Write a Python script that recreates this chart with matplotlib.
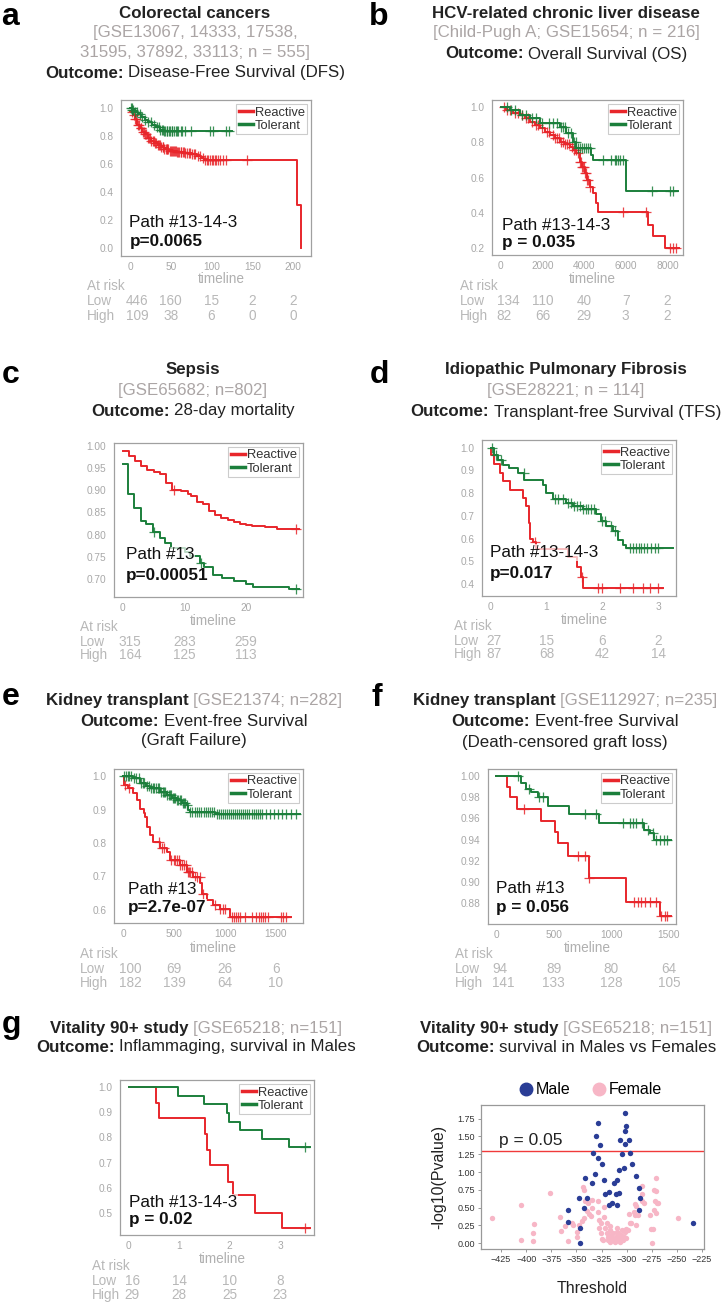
import numpy as np
import matplotlib
matplotlib.use('Agg')
import matplotlib.pyplot as plt
import matplotlib.transforms as mtransforms
from matplotlib.lines import Line2D
from matplotlib.ticker import FormatStrFormatter

plt.rcParams['font.family'] = ['Liberation Sans', 'DejaVu Sans']

W, H = 726, 1305
RED = '#e8262b'
GREEN = '#1b7f3b'
GRAY_TXT = '#aba5a5'
TICK_GRAY = '#a8a8a8'
DARK = '#222222'

# ---------------- survival curves (step times / survival / end / censor times)
a_react_t = [0, 2, 4, 6, 9, 12, 15, 18, 22, 26, 30, 34, 38, 42, 48, 58, 68, 76, 82, 87, 91, 205, 210]
a_react_s = [0.975, 0.97, 0.95, 0.92, 0.88, 0.855, 0.83, 0.81, 0.785, 0.765, 0.75, 0.735, 0.72,
             0.705, 0.695, 0.688, 0.68, 0.668, 0.655, 0.64, 0.625, 0.31, 0.0]
a_react_end = 210
a_react_cens = [3, 5, 6, 8, 10, 11, 13, 14, 16, 17, 19, 20, 22, 23, 25, 26, 28, 29, 31, 32, 34, 35,
                37, 38, 40, 41, 42, 44, 45, 46, 47, 49, 50, 51, 53, 54, 55, 56, 58, 59, 60, 62, 63,
                65, 66, 68, 70, 72, 74, 76, 78, 80, 83, 86, 89, 92, 94, 96, 98, 100, 102, 104,
                106, 108, 111, 114, 118, 143]
a_tol_t = [0, 3, 6, 10, 14, 18, 22, 27, 32, 37, 42]
a_tol_s = [1.0, 0.985, 0.97, 0.955, 0.935, 0.915, 0.9, 0.88, 0.86, 0.845, 0.833]
a_tol_end = 125
a_tol_cens = [1, 2, 3, 4, 6, 9, 12, 15, 18, 22, 26, 30, 33, 35, 37, 39, 40, 42, 43, 45, 46, 48,
              49, 51, 52, 54, 56, 58, 59, 62, 64, 67, 75, 98, 102, 118, 121]

b_react_t = [0, 270, 600, 912, 1150, 1390, 1630, 1870, 2110, 2350, 2590, 2830, 3070, 3310, 3470,
             3630, 3790, 3900, 4030, 4150, 4270, 4430, 4590, 4690, 7070, 7310, 7870]
b_react_s = [1.0, 0.985, 0.97, 0.956, 0.937, 0.918, 0.90, 0.88, 0.862, 0.843, 0.825, 0.805, 0.79,
             0.777, 0.76, 0.739, 0.691, 0.66, 0.625, 0.59, 0.55, 0.512, 0.455, 0.404, 0.333,
             0.267, 0.2]
b_react_end = 8560
b_react_cens = [150, 300, 450, 700, 850, 1000, 1200, 1300, 1500, 1700, 1800, 2000, 2200, 2300,
                2500, 2600, 2700, 2800, 2900, 3000, 3100, 3200, 3300, 3400, 3500, 3600, 3700,
                3800, 3850, 3900, 3950, 4000, 4050, 4100, 4150, 4200, 4300, 5870, 6990, 8110,
                8270, 8430]
b_tol_t = [0, 430, 912, 1390, 1870, 2830, 3150, 3470, 3630, 4350, 4430, 6030]
b_tol_s = [1.0, 0.985, 0.956, 0.937, 0.909, 0.89, 0.852, 0.805, 0.767, 0.73, 0.70, 0.525]
b_tol_end = 8510
b_tol_cens = [300, 500, 700, 1000, 1200, 1500, 1700, 2000, 2300, 2500, 2700, 2900, 3000, 3100,
              3250, 3350, 3500, 3600, 3700, 3800, 3900, 4000, 4100, 4200, 4300, 4910, 5310,
              5470, 5550, 5630, 5710, 5870, 7270, 8110, 8270]

c_react_t = [0, 1, 2, 3, 4, 5, 6, 7, 8, 9.5, 10.5, 11, 12, 13, 14, 15, 16, 17, 18, 19, 20, 21, 23, 25]
c_react_s = [0.988, 0.977, 0.965, 0.954, 0.945, 0.941, 0.936, 0.916, 0.901, 0.899, 0.892, 0.886,
             0.873, 0.868, 0.853, 0.845, 0.838, 0.832, 0.828, 0.825, 0.822, 0.820, 0.817, 0.813]
c_react_end = 28.5
c_react_cens = [8.3, 28]
c_tol_t = [0, 0.8, 1.9, 3.0, 3.8, 4.9, 6.0, 6.9, 7.9, 10.1, 10.9, 12.5, 13.1, 14.7, 16.1, 18.0,
           19.9, 21.1, 27.0]
c_tol_s = [0.958, 0.892, 0.861, 0.83, 0.824, 0.807, 0.793, 0.781, 0.770, 0.762, 0.751, 0.736,
           0.727, 0.710, 0.703, 0.697, 0.690, 0.683, 0.677]
c_tol_end = 28.6
c_tol_cens = [5.0, 12.7, 28.0]

d_react_t = [0, 0.01, 0.06, 0.16, 0.22, 0.34, 0.57, 0.64, 0.68, 0.70, 0.76, 0.82, 1.39, 1.54,
             1.62, 1.65]
d_react_s = [1.0, 0.97, 0.93, 0.89, 0.852, 0.816, 0.779, 0.742, 0.669, 0.598, 0.585, 0.556,
             0.517, 0.473, 0.43, 0.381]
d_react_end = 3.09
d_react_cens = [0.79, 1.63, 1.92, 2.0, 2.31, 2.55, 2.73, 2.86, 3.0]
d_tol_t = [0, 0.065, 0.125, 0.215, 0.335, 0.484, 0.603, 0.93, 0.99, 1.11, 1.35, 1.47, 1.65,
           1.89, 1.98, 2.07, 2.19, 2.28, 2.37, 2.43]
d_tol_s = [1.0, 0.97, 0.948, 0.926, 0.911, 0.889, 0.86, 0.838, 0.801, 0.772, 0.757, 0.742,
           0.728, 0.706, 0.676, 0.654, 0.632, 0.595, 0.573, 0.558]
d_tol_end = 3.26
d_tol_cens = [0.03, 0.1, 0.18, 0.6, 1.15, 1.2, 1.3, 1.38, 1.44, 1.5, 1.55, 1.6, 1.65, 1.7, 1.75,
              1.8, 1.85, 2.0, 2.05, 2.15, 2.22, 2.5, 2.55, 2.6, 2.65, 2.7, 2.75, 2.8, 2.88,
              2.95, 3.0]

e_react_t = [0, 7, 49, 98, 131, 164, 200, 213, 229, 262, 295, 360, 426, 458, 557, 622, 688,
             753, 770, 819, 884, 950, 1048]
e_react_s = [1.0, 0.973, 0.963, 0.948, 0.928, 0.903, 0.89, 0.878, 0.849, 0.824, 0.804, 0.784,
             0.774, 0.749, 0.734, 0.714, 0.699, 0.679, 0.649, 0.629, 0.614, 0.604, 0.580]
e_react_end = 1653
e_react_cens = [20, 60, 350, 380, 400, 470, 500, 510, 530, 545, 560, 580, 600, 620, 640, 650,
                660, 680, 700, 720, 750, 780, 900, 950, 980, 1000, 1070, 1090, 1110, 1130,
                1150, 1200, 1260, 1300, 1330, 1350, 1370, 1390, 1420, 1550, 1570, 1600]
e_tol_t = [0, 98, 164, 220, 262, 360, 426, 480, 524, 580, 622, 640, 655, 900]
e_tol_s = [1.0, 0.993, 0.978, 0.97, 0.963, 0.953, 0.943, 0.935, 0.928, 0.92, 0.913, 0.90,
           0.893, 0.886]
e_tol_end = 1735
e_tol_cens = [10, 30, 50, 60, 80, 110, 130, 150, 170, 190, 200, 230, 250, 270, 290, 300, 320,
              340, 350, 370, 390, 400, 410, 430, 450, 460, 470, 490, 500, 510, 530, 540, 560,
              570, 590, 600, 610, 630, 660, 680, 700, 720, 740, 760, 790, 810, 830, 850, 870,
              890, 920, 940, 960, 980, 1000, 1020, 1040, 1060, 1080, 1100, 1120, 1140, 1160,
              1180, 1200, 1220, 1240, 1260, 1280, 1300, 1320, 1340, 1360, 1400, 1440, 1480,
              1520, 1560, 1600, 1650, 1700]

f_react_t = [0, 93, 122, 180, 391, 513, 536, 623, 805, 1129, 1425]
f_react_s = [1.0, 0.990, 0.980, 0.969, 0.958, 0.947, 0.937, 0.925, 0.904, 0.881, 0.868]
f_react_end = 1521
f_react_cens = [240, 710, 768, 805, 1193, 1231, 1260, 1294, 1332, 1390, 1433, 1462, 1482]
f_tol_t = [0, 211, 260, 304, 362, 449, 628, 892, 1283, 1332, 1370]
f_tol_s = [1.0, 0.993, 0.988, 0.985, 0.980, 0.972, 0.964, 0.956, 0.949, 0.946, 0.940]
f_tol_end = 1521
f_tol_cens = [188, 281, 374, 403, 768, 869, 1100, 1158, 1187, 1216, 1268, 1317, 1361, 1390,
              1425, 1457, 1483]

g_react_t = [0, 0.542, 0.609, 1.514, 1.56, 1.61, 1.96, 2.06, 2.51, 3.03]
g_react_s = [1.0, 0.936, 0.876, 0.813, 0.750, 0.690, 0.624, 0.570, 0.50, 0.437]
g_react_end = 3.6
g_react_cens = [3.5]
g_tol_t = [0, 0.985, 1.50, 1.94, 1.98, 2.2, 2.64, 3.17]
g_tol_s = [1.0, 0.965, 0.932, 0.896, 0.861, 0.828, 0.793, 0.761]
g_tol_end = 3.6
g_tol_cens = [3.5]

# at-risk tables
a_ticks = [0, 50, 100, 150, 200]
a_low = [446, 160, 15, 2, 2]
a_high = [109, 38, 6, 0, 0]
b_ticks = [0, 2000, 4000, 6000, 8000]
b_low = [134, 110, 40, 7, 2]
b_high = [82, 66, 29, 3, 2]
c_ticks = [0, 10, 20]
c_low = [315, 283, 259]
c_high = [164, 125, 113]
d_ticks = [0, 1, 2, 3]
d_low = [27, 15, 6, 2]
d_high = [87, 68, 42, 14]
e_ticks = [0, 500, 1000, 1500]
e_low = [100, 69, 26, 6]
e_high = [182, 139, 64, 10]
f_ticks = [0, 500, 1000, 1500]
f_low = [94, 89, 80, 64]
f_high = [141, 133, 128, 105]
g_ticks = [0, 1, 2, 3]
g_low = [16, 14, 10, 8]
g_high = [29, 28, 25, 23]

# scatter panel: threshold vs -log10(p)
male_x = [-234, -301.2, -300.5, -301.8, -306.8, -297.5, -301.5, -305.1, -296.5, -294.9, -303.1,
          -307.5, -290.2, -288.2, -286.9, -287.3, -310.1, -312.7, -307.8, -310.8, -314.1, -310.1,
          -317.7, -321.3, -317.7, -328.3, -330.6, -327.0, -333.2, -328.9, -324.3, -332.0, -323.0,
          -334.6, -341.2, -339.6, -342.9, -347.5, -358.4, -358.4, -346.5, -346.5]
male_y = [0.29, 1.83, 1.64, 1.58, 1.45, 1.45, 1.39, 1.25, 1.27, 1.11, 1.06, 1.03, 0.95, 0.78,
          0.63, 0.47, 0.89, 0.85, 0.71, 0.69, 0.57, 0.54, 0.72, 0.69, 0.54, 1.69, 1.51, 1.38,
          1.26, 1.19, 1.11, 0.97, 0.89, 0.84, 0.92, 0.63, 0.50, 0.63, 0.47, 0.30, 0.22, 0.01]
female_x = [-434.3, -405.1, -405.4, -392.5, -393.5, -393.2, -376.7, -366.7, -365.1, -358.8,
            -361.4, -354.8, -353.1, -349.5, -349.8, -347.8, -344.9, -342.9, -341.9, -343.5,
            -342.2, -339.9, -338.9, -337.3, -335.6, -334.1, -334.6, -329.0, -329.0, -327.6,
            -326.0, -327.3, -326.0, -324.7, -324.0, -322.7, -323.0, -322.0, -320.0, -318.4,
            -319.4, -316.7, -316.1, -315.1, -314.1, -312.7, -311.8, -310.8, -310.1, -309.4,
            -308.4, -307.5, -306.8, -305.8, -304.8, -304.1, -303.5, -302.5, -301.8, -300.8,
            -300.2, -316.1, -318.4, -313.4, -308.8, -305.1, -298.2, -296.9, -295.2, -297.5,
            -292.9, -291.9, -290.9, -291.9, -289.0, -290.2, -285.0, -284.4, -284.4, -283.1,
            -277.0, -275.7, -274.0, -275.0, -272.4, -271.0, -270.4, -271.7, -269.6, -268.4,
            -272.7, -271.0, -248.5]
female_y = [0.35, 0.54, 0.05, 0.27, 0.15, 0.03, 0.71, 0.37, 0.17, 0.03, 0.24, 0.29, 0.25, 0.09,
            0.16, 0.26, 0.31, 0.36, 0.60, 0.79, 0.75, 0.46, 0.56, 0.41, 0.38, 0.49, 0.61, 0.59,
            0.44, 0.33, 0.28, 0.22, 0.14, 0.06, 0.05, 0.51, 0.37, 0.21, 0.15, 0.09, 0.28, 0.24,
            0.19, 0.12, 0.07, 0.05, 0.02, 0.09, 0.16, 0.22, 0.14, 0.07, 0.02, 0.12, 0.19, 0.08,
            0.04, 0.09, 0.16, 0.07, 0.20, 0.02, 0.05, 0.15, 0.05, 0.04, 0.19, 0.28, 0.28, 0.41,
            0.44, 0.55, 0.52, 0.39, 0.39, 0.25, 0.80, 0.69, 0.60, 0.56, 0.39, 0.20, 0.20, 0.01,
            0.75, 0.91, 0.73, 0.60, 0.56, 0.56, 0.47, 0.43, 0.35]

fig = plt.figure(figsize=(W / 100, H / 100), dpi=100)
renderer = fig.canvas.get_renderer()


def box(l, t, r, b):
    return [l / W, 1 - b / H, (r - l) / W, (b - t) / H]


def fy(y):
    return 1 - y / H


def text_line(xc, y, parts, size=12.2):
    """centre a line made of several differently styled pieces"""
    objs, widths = [], []
    for s, w, c in parts:
        t = fig.text(0, fy(y), s, fontsize=size, fontweight=w, color=c, ha='left', va='center')
        objs.append(t)
        widths.append(t.get_window_extent(renderer).width)
    sp = 0.278 * size * 100 / 72
    x = xc - (sum(widths) + sp * (len(parts) - 1)) / 2
    for t, w in zip(objs, widths):
        t.set_x(x / W)
        x += w + sp


def km_curve(ax, t, s, end, cens, color):
    t = np.asarray(t, float)
    s = np.asarray(s, float)
    ax.step(np.append(t, end), np.append(s, s[-1]), where='post', color=color, lw=1.4)
    idx = np.searchsorted(t, cens, side='right') - 1
    ax.plot(cens, s[idx], '+', color=color, ms=7.5, mew=0.9, alpha=0.85)


panels = [
    dict(label='a', lab_xy=(1, 25), box=(121, 100, 311, 256), xlim=(-11, 222), ylim=(-0.055, 1.055),
         yticks=[0, 0.2, 0.4, 0.6, 0.8, 1.0], yfmt='%.1f', ticks=a_ticks, low=a_low, high=a_high,
         react=(a_react_t, a_react_s, a_react_end, a_react_cens),
         tol=(a_tol_t, a_tol_s, a_tol_end, a_tol_cens),
         path='Path #13-14-3', p='p=0.0065', pxy=(0.044, 0.212, 0.09),
         risk_x=87, risk_y=(278, 286, 301, 316)),
    dict(label='b', lab_xy=(369, 25), box=(492, 100, 683, 255), xlim=(-418, 8750), ylim=(0.162, 1.041),
         yticks=[0.2, 0.4, 0.6, 0.8, 1.0], yfmt='%.1f', ticks=b_ticks, low=b_low, high=b_high,
         react=(b_react_t, b_react_s, b_react_end, b_react_cens),
         tol=(b_tol_t, b_tol_s, b_tol_end, b_tol_cens),
         path='Path #13-14-3', p='p = 0.035', pxy=(0.054, 0.189, 0.079),
         risk_x=460, risk_y=(278, 286, 301, 316)),
    dict(label='c', lab_xy=(2, 383), box=(114, 443, 303, 597), xlim=(-1.4, 29.2), ylim=(0.660, 1.006),
         yticks=[0.70, 0.75, 0.80, 0.85, 0.90, 0.95, 1.00], yfmt='%.2f', ticks=c_ticks, low=c_low,
         high=c_high, react=(c_react_t, c_react_s, c_react_end, c_react_cens),
         tol=(c_tol_t, c_tol_s, c_tol_end, c_tol_cens),
         path='Path #13', p='p=0.00051', pxy=(0.063, 0.273, 0.138),
         risk_x=80, risk_y=(620, 627, 642, 655)),
    dict(label='d', lab_xy=(370, 383), box=(482, 440, 676, 596), xlim=(-0.156, 3.32), ylim=(0.347, 1.034),
         yticks=[0.4, 0.5, 0.6, 0.7, 0.8, 0.9, 1.0], yfmt='%.1f', ticks=d_ticks, low=d_low,
         high=d_high, react=(d_react_t, d_react_s, d_react_end, d_react_cens),
         tol=(d_tol_t, d_tol_s, d_tol_end, d_tol_cens),
         path='Path #13-14-3', p='p=0.017', pxy=(0.04, 0.28, 0.145),
         risk_x=454, risk_y=(619, 626, 641, 654)),
    dict(label='e', lab_xy=(2, 705), box=(114, 769, 303, 923), xlim=(-91, 1766), ylim=(0.561, 1.021),
         yticks=[0.6, 0.7, 0.8, 0.9, 1.0], yfmt='%.1f', ticks=e_ticks, low=e_low, high=e_high,
         react=(e_react_t, e_react_s, e_react_end, e_react_cens),
         tol=(e_tol_t, e_tol_s, e_tol_end, e_tol_cens),
         path='Path #13', p='p=2.7e-07', pxy=(0.072, 0.219, 0.10),
         risk_x=80, risk_y=(947, 954, 969, 983)),
    dict(label='f', lab_xy=(371, 706), box=(488, 769, 676, 924), xlim=(-72, 1561), ylim=(0.8605, 1.0066),
         yticks=[0.88, 0.90, 0.92, 0.94, 0.96, 0.98, 1.00], yfmt='%.2f', ticks=f_ticks, low=f_low,
         high=f_high, react=(f_react_t, f_react_s, f_react_end, f_react_cens),
         tol=(f_tol_t, f_tol_s, f_tol_end, f_tol_cens),
         path='Path #13', p='p = 0.056', pxy=(0.041, 0.23, 0.105),
         risk_x=455, risk_y=(947, 954, 969, 983)),
    dict(label='g', lab_xy=(2, 1033), box=(120, 1080, 314, 1235), xlim=(-0.172, 3.67), ylim=(0.411, 1.029),
         yticks=[0.5, 0.6, 0.7, 0.8, 0.9, 1.0], yfmt='%.1f', ticks=g_ticks, low=g_low, high=g_high,
         react=(g_react_t, g_react_s, g_react_end, g_react_cens),
         tol=(g_tol_t, g_tol_s, g_tol_end, g_tol_cens),
         path='Path #13-14-3', p='p = 0.02', pxy=(0.045, 0.211, 0.097),
         risk_x=92, risk_y=(1258, 1266, 1281, 1295)),
]

for pn in panels:
    ax = fig.add_axes(box(*pn['box']))
    km_curve(ax, *pn['react'], RED)
    km_curve(ax, *pn['tol'], GREEN)
    ax.set_xlim(*pn['xlim'])
    ax.set_ylim(*pn['ylim'])
    ax.set_xticks(pn['ticks'])
    ax.set_yticks(pn['yticks'])
    ax.yaxis.set_major_formatter(FormatStrFormatter(pn['yfmt']))
    ax.tick_params(length=0, labelsize=7.3, labelcolor=TICK_GRAY)
    ax.tick_params(axis='x', pad=4)
    ax.tick_params(axis='y', pad=5.5)
    for sp in ax.spines.values():
        sp.set_color('#a0a0a0')
        sp.set_linewidth(0.9)
    handles = [Line2D([0], [0], color=RED, lw=2.5), Line2D([0], [0], color=GREEN, lw=2.5)]
    leg = ax.legend(handles, ['Reactive', 'Tolerant'], loc='upper right', fontsize=9.3,
                    handlelength=1.1, handletextpad=0.1, borderpad=0.2, labelspacing=0.1,
                    borderaxespad=0.3, fancybox=False, framealpha=1)
    leg.get_frame().set_edgecolor('#cccccc')
    leg.get_frame().set_linewidth(0.8)
    for t in leg.get_texts():
        t.set_color('#333333')
    bb = dict(facecolor='white', alpha=0.7, edgecolor='none', pad=0.5)
    x0, yp, yv = pn['pxy']
    ax.text(x0, yp, pn['path'], transform=ax.transAxes, fontsize=12.3, color='#111111',
            va='center', ha='left', bbox=bb)
    ax.text(x0, yv, pn['p'], transform=ax.transAxes, fontsize=12.3, fontweight='bold',
            color='#111111', va='center', ha='left', bbox=bb)

    # timeline label and at-risk table
    l, t_, r, b = pn['box']
    ty, ay, ly, hy = pn['risk_y']
    fig.text(((l + r) / 2 + 5) / W, fy(ty + 1), 'timeline', fontsize=9.8, color='#b0b0b0',
             ha='center', va='center')
    for txt, yy in (('At risk', ay), ('Low', ly), ('High', hy)):
        fig.text(pn['risk_x'] / W, fy(yy), txt, fontsize=9.8, color='#b8b8b8', ha='left', va='center')
    trans = mtransforms.blended_transform_factory(ax.transData, fig.transFigure)
    first = mtransforms.offset_copy(trans, fig=fig, x=-4, units='dots')
    for i, (xv, lo, hi) in enumerate(zip(pn['ticks'], pn['low'], pn['high'])):
        tr = first if i == 0 else trans
        ha = 'left' if i == 0 else 'center'
        ax.text(xv, fy(ly), str(lo), transform=tr, fontsize=9.8, color='#b8b8b8', ha=ha,
                va='center', clip_on=False)
        ax.text(xv, fy(hy), str(hi), transform=tr, fontsize=9.8, color='#b8b8b8', ha=ha,
                va='center', clip_on=False)

    fig.text(pn['lab_xy'][0] / W, fy(pn['lab_xy'][1]), pn['label'], fontsize=23,
             fontweight='bold', color='black', ha='left', va='baseline')

# ---------------- titles
L, R = 195, 566
B, N = 'bold', 'normal'
text_line(L, 13, [('Colorectal cancers', B, DARK)])
text_line(L, 32, [('[GSE13067, 14333, 17538,', N, GRAY_TXT)])
text_line(L, 52, [('31595, 37892, 33113; n = 555]', N, GRAY_TXT)])
text_line(L, 73, [('Outcome:', B, DARK), ('Disease-Free Survival (DFS)', N, DARK)])

text_line(R, 13, [('HCV-related chronic liver disease', B, DARK)])
text_line(R, 33, [('[Child-Pugh A; GSE15654; n = 216]', N, GRAY_TXT)])
text_line(R, 54, [('Outcome:', B, DARK), ('Overall Survival (OS)', N, DARK)])

text_line(193, 370, [('Sepsis', B, DARK)])
text_line(193, 391, [('[GSE65682; n=802]', N, GRAY_TXT)])
text_line(193, 411, [('Outcome:', B, DARK), ('28-day mortality', N, DARK)])

text_line(R, 370, [('Idiopathic Pulmonary Fibrosis', B, DARK)])
text_line(R, 391, [('[GSE28221; n = 114]', N, GRAY_TXT)])
text_line(R, 412, [('Outcome:', B, DARK), ('Transplant-free Survival (TFS)', N, DARK)])

text_line(194, 701, [('Kidney transplant', B, DARK), ('[GSE21374; n=282]', N, GRAY_TXT)])
text_line(194, 722, [('Outcome:', B, DARK), ('Event-free Survival', N, DARK)])
text_line(194, 741, [('(Graft Failure)', N, DARK)])

text_line(565, 701, [('Kidney transplant', B, DARK), ('[GSE112927; n=235]', N, GRAY_TXT)])
text_line(565, 722, [('Outcome:', B, DARK), ('Event-free Survival', N, DARK)])
text_line(565, 742, [('(Death-censored graft loss)', N, DARK)])

text_line(196, 1028, [('Vitality 90+ study', B, DARK), ('[GSE65218; n=151]', N, GRAY_TXT)])
text_line(196, 1047, [('Outcome:', B, DARK), ('Inflammaging, survival in Males', N, DARK)])

text_line(566, 1028, [('Vitality 90+ study', B, DARK), ('[GSE65218; n=151]', N, GRAY_TXT)])
text_line(566, 1047, [('Outcome:', B, DARK), ('survival in Males vs Females', N, DARK)])

# ---------------- scatter panel
axh = fig.add_axes(box(481, 1105, 704, 1249))
axh.scatter(female_x, female_y, s=15, color='#f7b6c6', label='Female', zorder=2, linewidths=0)
axh.scatter(male_x, male_y, s=15, color='#2a3d96', label='Male', zorder=3, linewidths=0)
axh.axhline(-np.log10(0.05), color='#f03a3a', lw=1)
axh.text(-427, 1.44, 'p = 0.05', fontsize=12.5, color='#222222', va='center', ha='left')
axh.set_xlim(-445, -223)
axh.set_ylim(-0.08, 1.94)
axh.set_xticks(np.arange(-425, -224, 25))
axh.set_yticks(np.arange(0, 1.76, 0.25))
axh.yaxis.set_major_formatter(FormatStrFormatter('%.2f'))
axh.tick_params(labelsize=6.5, labelcolor='#333333', length=2.5, color='#888888', width=0.6, pad=2)
for sp in axh.spines.values():
    sp.set_color('#999999')
    sp.set_linewidth(0.9)
axh.set_ylabel('-log10(Pvalue)', fontsize=11.5, color='#222222', labelpad=8)
axh.set_xlabel('Threshold', fontsize=11.5, color='#222222', labelpad=12)
hl = [Line2D([0], [0], marker='o', ls='none', color='#2a3d96', ms=9),
      Line2D([0], [0], marker='o', ls='none', color='#f7b6c6', ms=9)]
axh.legend(hl, ['Male', 'Female'], loc='lower center', bbox_to_anchor=(0.49, 0.955), ncol=2,
           frameon=False, fontsize=11.5, handletextpad=0.1, columnspacing=1.3, handlelength=1.0)

fig.savefig('out.png', dpi=100)
